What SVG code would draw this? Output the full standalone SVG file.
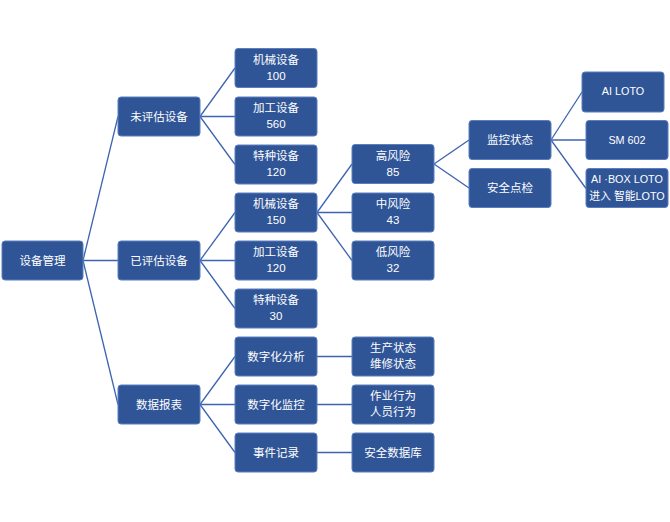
<svg xmlns="http://www.w3.org/2000/svg" width="670" height="522" viewBox="0 0 670 522">
<style>
.n rect{fill:#2F5597;stroke:#5B7EC2;stroke-width:1}
.n text{fill:#FFFFFF;font-family:"Liberation Sans","Noto Sans CJK SC",sans-serif;font-size:11.5px;text-anchor:middle}
.n text.s{font-size:10.8px}
.c line{stroke:#3E64B0;stroke-width:1.3}
</style>
<rect width="670" height="522" fill="#FFFFFF"/>
<g id="connectors" class="c">
<line x1="83" y1="260.5" x2="118" y2="116.5"/>
<line x1="83" y1="260.5" x2="118" y2="260.5"/>
<line x1="83" y1="260.5" x2="118" y2="404.5"/>
<line x1="200" y1="116.5" x2="235" y2="68"/>
<line x1="200" y1="116.5" x2="235" y2="116.5"/>
<line x1="200" y1="116.5" x2="235" y2="164.5"/>
<line x1="200" y1="260.5" x2="235" y2="212.5"/>
<line x1="200" y1="260.5" x2="235" y2="260.5"/>
<line x1="200" y1="260.5" x2="235" y2="308.5"/>
<line x1="200" y1="404.5" x2="235" y2="356.5"/>
<line x1="200" y1="404.5" x2="235" y2="404.5"/>
<line x1="200" y1="404.5" x2="235" y2="452.5"/>
<line x1="317" y1="212.5" x2="352" y2="164"/>
<line x1="317" y1="212.5" x2="352" y2="212.5"/>
<line x1="317" y1="212.5" x2="352" y2="260.5"/>
<line x1="317" y1="356.5" x2="352" y2="356.5"/>
<line x1="317" y1="404.5" x2="352" y2="404.5"/>
<line x1="317" y1="452.5" x2="352" y2="452.5"/>
<line x1="434" y1="164" x2="469" y2="140"/>
<line x1="434" y1="164" x2="469" y2="188"/>
<line x1="551" y1="140" x2="582" y2="92"/>
<line x1="551" y1="140" x2="586" y2="140"/>
<line x1="551" y1="140" x2="586" y2="188.5"/>
</g>
<g id="root" class="n"><rect x="2" y="241" width="81" height="39" rx="3"/><text x="42.5" y="264.5">设备管理</text></g>
<g id="unassessed" class="n"><rect x="118" y="97" width="82" height="39" rx="3"/><text x="159" y="120.5">未评估设备</text></g>
<g id="assessed" class="n"><rect x="118" y="241" width="82" height="39" rx="3"/><text x="159" y="264.5">已评估设备</text></g>
<g id="report" class="n"><rect x="118" y="385" width="82" height="39" rx="3"/><text x="159" y="408.5">数据报表</text></g>
<g id="u-mech" class="n"><rect x="235" y="48.5" width="82" height="39" rx="3"/><text x="276" y="63.5">机械设备</text><text x="276" y="79.5">100</text></g>
<g id="u-proc" class="n"><rect x="235" y="97" width="82" height="39" rx="3"/><text x="276" y="112">加工设备</text><text x="276" y="128">560</text></g>
<g id="u-spec" class="n"><rect x="235" y="145" width="82" height="39" rx="3"/><text x="276" y="160">特种设备</text><text x="276" y="176">120</text></g>
<g id="a-mech" class="n"><rect x="235" y="193" width="82" height="39" rx="3"/><text x="276" y="208">机械设备</text><text x="276" y="224">150</text></g>
<g id="a-proc" class="n"><rect x="235" y="241" width="82" height="39" rx="3"/><text x="276" y="256">加工设备</text><text x="276" y="272">120</text></g>
<g id="a-spec" class="n"><rect x="235" y="289" width="82" height="39" rx="3"/><text x="276" y="304">特种设备</text><text x="276" y="320">30</text></g>
<g id="analysis" class="n"><rect x="235" y="337" width="82" height="39" rx="3"/><text x="276" y="360.5">数字化分析</text></g>
<g id="monitor" class="n"><rect x="235" y="385" width="82" height="39" rx="3"/><text x="276" y="408.5">数字化监控</text></g>
<g id="events" class="n"><rect x="235" y="433" width="82" height="39" rx="3"/><text x="276" y="456.5">事件记录</text></g>
<g id="high" class="n"><rect x="352" y="144.5" width="82" height="39" rx="3"/><text x="393" y="159.5">高风险</text><text x="393" y="175.5">85</text></g>
<g id="mid" class="n"><rect x="352" y="193" width="82" height="39" rx="3"/><text x="393" y="208">中风险</text><text x="393" y="224">43</text></g>
<g id="low" class="n"><rect x="352" y="241" width="82" height="39" rx="3"/><text x="393" y="256">低风险</text><text x="393" y="272">32</text></g>
<g id="prod" class="n"><rect x="352" y="337" width="82" height="39" rx="3"/><text x="393" y="352">生产状态</text><text x="393" y="368">维修状态</text></g>
<g id="behav" class="n"><rect x="352" y="385" width="82" height="39" rx="3"/><text x="393" y="400">作业行为</text><text x="393" y="416">人员行为</text></g>
<g id="db" class="n"><rect x="352" y="433" width="82" height="39" rx="3"/><text x="393" y="456.5">安全数据库</text></g>
<g id="mon-state" class="n"><rect x="469" y="120.5" width="82" height="39" rx="3"/><text x="510" y="144">监控状态</text></g>
<g id="inspect" class="n"><rect x="469" y="168.5" width="82" height="39" rx="3"/><text x="510" y="192">安全点检</text></g>
<g id="ailoto" class="n"><rect x="582" y="72" width="82" height="40" rx="3"/><text x="623" y="94.5" class="s">AI LOTO</text></g>
<g id="sm602" class="n"><rect x="586" y="120.5" width="82" height="39" rx="3"/><text x="627" y="143.5" class="s">SM 602</text></g>
<g id="aibox" class="n"><rect x="586" y="168.5" width="82" height="39" rx="3"/><text x="627" y="183" class="s">AI ·BOX LOTO</text><text x="627" y="200" class="s">进入 智能LOTO</text></g>
</svg>
